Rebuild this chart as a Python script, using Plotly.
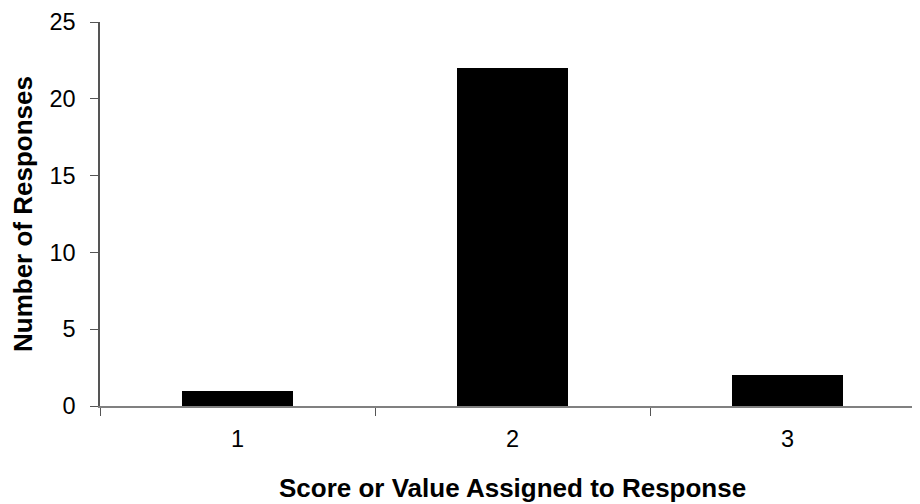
import plotly.graph_objects as go

categories = ["1", "2", "3"]
responses = [1, 22, 2]
y_ticks = [0, 5, 10, 15, 20, 25]
x_title = "Score or Value Assigned to Response"
y_title = "Number of Responses"

FONT = "Liberation Sans, Arial, sans-serif"

fig = go.Figure(go.Bar(
    x=categories, y=responses,
    marker=dict(color="black", line=dict(width=0)),
    width=0.405,
))

fig.update_layout(
    width=920, height=504,
    margin=dict(l=92, r=0, t=14, b=106),
    paper_bgcolor="white", plot_bgcolor="white",
    font=dict(family=FONT, size=23.5, color="black"),
    showlegend=False,
    bargap=0,
)
fig.update_xaxes(
    type="category", automargin=False,
    range=[-0.5, -0.5 + 828 / 275],
    showgrid=False, zeroline=False,
    showline=True, linecolor="#808080", linewidth=1.5,
    ticks="outside", ticklen=8, tickcolor="#555555", tickwidth=1.2,
    tickson="boundaries",
    tickfont=dict(size=23.5),
    ticklabelstandoff=11,
)
fig.update_yaxes(
    automargin=False,
    range=[0, 25],
    tickvals=y_ticks,
    showgrid=False, zeroline=False,
    showline=True, linecolor="#555555", linewidth=1.5,
    ticks="outside", ticklen=8, tickcolor="#555555", tickwidth=1.2,
    tickfont=dict(size=23.5),
    ticklabelstandoff=10,
)
fig.add_annotation(
    text=f"<b>{x_title}</b>", xref="paper", yref="paper",
    x=0, y=0, xanchor="center", yanchor="middle", yshift=-82, xshift=412,
    showarrow=False, font=dict(size=26, family=FONT, color="black"),
)
fig.add_annotation(
    text=f"<b>{y_title}</b>", xref="paper", yref="paper",
    x=0, y=0.5, xanchor="center", yanchor="middle", xshift=-77,
    textangle=-90,
    showarrow=False, font=dict(size=26, family=FONT, color="black"),
)

fig.write_html("out.html")
